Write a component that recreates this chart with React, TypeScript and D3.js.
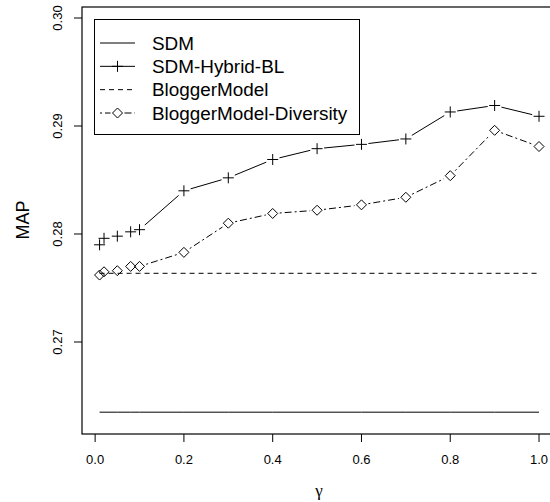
import React, { useEffect, useRef } from "react";
import * as d3 from "d3";

// gamma values on the x axis
const gammaValues = [0.01, 0.02, 0.05, 0.08, 0.1, 0.2, 0.3, 0.4, 0.5, 0.6, 0.7, 0.8, 0.9, 1.0];

// MAP per series
const sdmValues = [0.2635, 0.2635, 0.2635, 0.2635, 0.2635, 0.2635, 0.2635, 0.2635, 0.2635, 0.2635, 0.2635, 0.2635, 0.2635, 0.2635];
const hybridValues = [0.2790, 0.2796, 0.2798, 0.2802, 0.2804, 0.2840, 0.2852, 0.2869, 0.2879, 0.2883, 0.2888, 0.2913, 0.2919, 0.2909];
const bloggerValues = [0.27636, 0.27636, 0.27636, 0.27636, 0.27636, 0.27636, 0.27636, 0.27636, 0.27636, 0.27636, 0.27636, 0.27636, 0.27636, 0.27636];
const diversityValues = [0.2762, 0.2765, 0.2766, 0.2770, 0.2770, 0.2783, 0.2810, 0.2819, 0.2822, 0.2827, 0.2834, 0.2854, 0.2896, 0.2881];

const seriesNames = ["SDM", "SDM-Hybrid-BL", "BloggerModel", "BloggerModel-Diversity"];

const xTicks = [0.0, 0.2, 0.4, 0.6, 0.8, 1.0];
const yTicks = [0.27, 0.28, 0.29, 0.30];

const FONT = "'Liberation Sans', Arial, Helvetica, sans-serif";

export default function App() {
    const svgRef = useRef<SVGSVGElement>(null);

    useEffect(() => {
        const width = 550;
        const height = 502;
        document.body.style.margin = "0";

        const svg = d3.select(svgRef.current);
        svg.selectAll("*").remove();
        svg.attr("width", width).attr("height", height);

        // R style plot region (4% padding)
        const x = d3.scaleLinear().domain([-0.0296, 1.0396]).range([82, 556.6]);
        const y = d3.scaleLinear().domain([0.26148, 0.30102]).range([434, 7]);

        const plot = svg.append("g");

        // box
        plot.append("rect")
            .attr("x", x(-0.0296))
            .attr("y", y(0.30102))
            .attr("width", x(1.0396) - x(-0.0296))
            .attr("height", y(0.26148) - y(0.30102))
            .attr("fill", "none")
            .attr("stroke", "black")
            .attr("stroke-width", 1.2);

        // x axis ticks
        const xAxis = svg.append("g").attr("transform", `translate(0, ${y(0.26148)})`);
        xAxis.selectAll("line")
            .data(xTicks)
            .enter()
            .append("line")
            .attr("x1", d => x(d))
            .attr("x2", d => x(d))
            .attr("y1", 0)
            .attr("y2", 8)
            .attr("stroke", "black");
        xAxis.selectAll("text")
            .data(xTicks)
            .enter()
            .append("text")
            .attr("x", d => x(d))
            .attr("y", 30)
            .attr("text-anchor", "middle")
            .attr("font-family", FONT)
            .attr("font-size", 13)
            .text(d => d3.format(".1f")(d));

        // y axis ticks
        const yAxis = svg.append("g").attr("transform", `translate(${x(-0.0296)}, 0)`);
        yAxis.selectAll("line")
            .data(yTicks)
            .enter()
            .append("line")
            .attr("x1", -8)
            .attr("x2", 0)
            .attr("y1", d => y(d))
            .attr("y2", d => y(d))
            .attr("stroke", "black");
        yAxis.selectAll("text")
            .data(yTicks)
            .enter()
            .append("text")
            .attr("transform", d => `translate(-20, ${y(d)}) rotate(-90)`)
            .attr("text-anchor", "middle")
            .attr("font-family", FONT)
            .attr("font-size", 13)
            .text(d => d3.format(".2f")(d));

        // axis titles
        svg.append("text")
            .attr("x", 319)
            .attr("y", 496)
            .attr("text-anchor", "middle")
            .attr("font-family", "'Liberation Serif', serif")
            .attr("font-size", 17)
            .text("γ");
        svg.append("text")
            .attr("transform", "translate(28.5, 220) rotate(-90)")
            .attr("text-anchor", "middle")
            .attr("font-family", FONT)
            .attr("font-size", 18)
            .text("MAP");

        // plain lines
        const line = d3.line<number>()
            .x((d, i) => x(gammaValues[i]))
            .y(d => y(d));

        plot.append("path")
            .attr("d", line(sdmValues))
            .attr("fill", "none")
            .attr("stroke", "black");
        plot.append("path")
            .attr("d", line(bloggerValues))
            .attr("fill", "none")
            .attr("stroke", "black")
            .attr("stroke-dasharray", "5,4");

        // type="b": segments stop short of the points
        const gap = 7;
        const drawB = (values: number[], dash: string | null) => {
            const pts = values.map((v, i) => [x(gammaValues[i]), y(v)]);
            const segs = d3.pairs(pts)
                .map(([a, b]) => {
                    const dx = b[0] - a[0], dy = b[1] - a[1];
                    const len = Math.hypot(dx, dy);
                    if (len <= 2 * gap) return null;
                    const ux = dx / len, uy = dy / len;
                    return [a[0] + ux * gap, a[1] + uy * gap, b[0] - ux * gap, b[1] - uy * gap];
                })
                .filter(s => s !== null) as number[][];
            plot.selectAll(null)
                .data(segs)
                .enter()
                .append("line")
                .attr("x1", d => d[0])
                .attr("y1", d => d[1])
                .attr("x2", d => d[2])
                .attr("y2", d => d[3])
                .attr("stroke", "black")
                .attr("stroke-dasharray", dash);
            return pts;
        };

        const plusPath = (cx: number, cy: number, r = 5.5) =>
            `M${cx - r},${cy}H${cx + r}M${cx},${cy - r}V${cy + r}`;
        const diamondPath = (cx: number, cy: number, r = 5) =>
            `M${cx},${cy - r}L${cx + r},${cy}L${cx},${cy + r}L${cx - r},${cy}Z`;

        const hybridPts = drawB(hybridValues, null);
        plot.selectAll(null)
            .data(hybridPts)
            .enter()
            .append("path")
            .attr("d", d => plusPath(d[0], d[1]))
            .attr("stroke", "black")
            .attr("fill", "none");

        const diversityPts = drawB(diversityValues, "2,3,7,3");
        plot.selectAll(null)
            .data(diversityPts)
            .enter()
            .append("path")
            .attr("d", d => diamondPath(d[0], d[1]))
            .attr("stroke", "black")
            .attr("fill", "none");

        // legend
        const legend = svg.append("g");
        legend.append("rect")
            .attr("x", 94.5)
            .attr("y", 19.5)
            .attr("width", 265)
            .attr("height", 115)
            .attr("fill", "white")
            .attr("stroke", "black");
        const rowY = d3.scaleLinear().domain([0, 3]).range([43, 113]);
        const lx1 = 100, lx2 = 135, lxc = 117.5;
        seriesNames.forEach((name, i) => {
            const ry = rowY(i);
            if (i === 3) {
                legend.append("line")
                    .attr("x1", lx1).attr("x2", lxc - 7).attr("y1", ry).attr("y2", ry)
                    .attr("stroke", "black").attr("stroke-dasharray", "2,3,7,3");
                legend.append("line")
                    .attr("x1", lxc + 7).attr("x2", lx2).attr("y1", ry).attr("y2", ry)
                    .attr("stroke", "black").attr("stroke-dasharray", "7,3");
            } else {
                legend.append("line")
                    .attr("x1", lx1).attr("x2", lx2).attr("y1", ry).attr("y2", ry)
                    .attr("stroke", "black")
                    .attr("stroke-dasharray", i === 2 ? "5,4" : null);
            }
            if (i === 1) {
                legend.append("path").attr("d", plusPath(lxc, ry)).attr("stroke", "black");
            }
            if (i === 3) {
                legend.append("path").attr("d", diamondPath(lxc, ry)).attr("stroke", "black").attr("fill", "none");
            }
            legend.append("text")
                .attr("x", 152)
                .attr("y", ry + 6.8)
                .attr("font-family", FONT)
                .attr("font-size", 18.9)
                .text(name);
        });
    }, []);

    return <svg ref={svgRef} style={{ position: "absolute", left: 0, top: 0 }}></svg>;
}
